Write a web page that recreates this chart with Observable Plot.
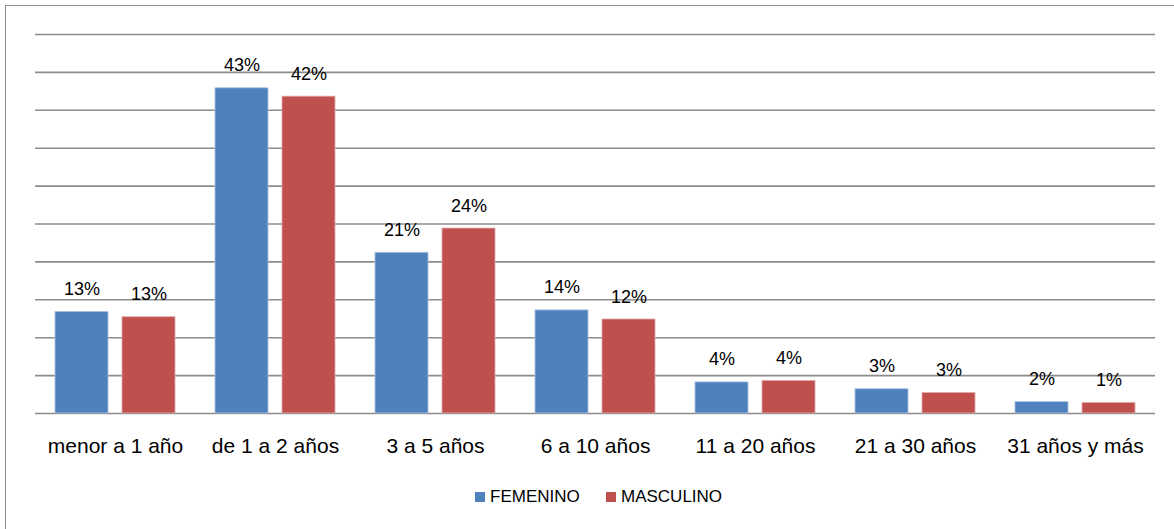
<!DOCTYPE html>
<html lang="es">
<head>
<meta charset="utf-8">
<script src="https://cdn.jsdelivr.net/npm/d3@7"></script>
<script src="https://cdn.jsdelivr.net/npm/@observablehq/plot@0.6"></script>
<style>
  html, body { margin: 0; padding: 0; background: #fff; overflow: hidden; }
  body { width: 1174px; height: 529px; position: relative; font-family: "Liberation Sans", Arial, sans-serif; }
  #frame { position: absolute; left: 5px; top: 5px; width: 1200px; height: 560px; border: 1.5px solid #8c8c8c; box-sizing: border-box; }
  #chart { position: absolute; left: 0; top: 0; }
  #legend { position: absolute; left: 0; top: 483px; width: 1174px; height: 28px; }
  .item { position: absolute; top: 0; display: flex; align-items: center; height: 28px; font-size: 17px; color: #000; }
  .swatch { width: 10px; height: 10px; margin-right: 5px; }
</style>
</head>
<body>
<div id="frame"></div>
<div id="chart"></div>
<div id="legend"></div>
<script>
// Antigüedad por sexo (porcentaje)
const categorias = ["menor a 1 año", "de 1 a 2 años", "3 a 5 años", "6 a 10 años", "11 a 20 años", "21 a 30 años", "31 años y más"];
const femenino  = [13.4, 42.9, 21.2, 13.6, 4.1, 3.2, 1.5];
const masculino = [12.7, 41.8, 24.4, 12.4, 4.3, 2.7, 1.4];
const series = ["FEMENINO", "MASCULINO"];
const colores = ["#4F81BD", "#C0504D"];
const lineasGuia = [0, 5, 10, 15, 20, 25, 30, 35, 40, 45, 50];

const filas = (valores, serie) => categorias.map((c, i) => ({cat: c, serie, valor: valores[i]}));
const datosF = filas(femenino, series[0]);
const datosM = filas(masculino, series[1]);

const etiqueta = d => `${Math.round(d.valor)}%`;
const fuente = "Liberation Sans, Arial, sans-serif";

const chart = Plot.plot({
  width: 1174,
  height: 475,
  marginLeft: 35,
  marginRight: 19,
  marginTop: 34,
  marginBottom: 62,
  style: {fontFamily: fuente, background: "transparent"},
  x: {type: "band", domain: categorias, padding: 0, label: null},
  y: {domain: [0, 50], axis: null},
  marks: [
    Plot.ruleY(lineasGuia, {stroke: "#8c8c8c", strokeWidth: 1.6}),
    Plot.barY(datosF, {x: "cat", y: "valor", fill: colores[0], insetLeft: 20, insetRight: 87, stroke: "#a9c1e0", strokeWidth: 0.8}),
    Plot.barY(datosM, {x: "cat", y: "valor", fill: colores[1], insetLeft: 87, insetRight: 20, stroke: "#e0a9a7", strokeWidth: 0.8}),
    Plot.text(datosF, {x: "cat", y: "valor", text: etiqueta, dx: -33.5, dy: -17, lineAnchor: "bottom", fontSize: 18, fill: "#000"}),
    Plot.text(datosM, {x: "cat", y: "valor", text: etiqueta, dx: 33.5, dy: -17, lineAnchor: "bottom", fontSize: 18, fill: "#000"}),
    Plot.axisX({tickSize: 0, tickPadding: 25, fontSize: 21, label: null, fill: "#000"})
  ]
});
document.getElementById("chart").appendChild(chart);

// Leyenda
const leyenda = document.getElementById("legend");
const posiciones = [475, 606];
series.forEach((s, i) => {
  const item = document.createElement("div");
  item.className = "item";
  item.style.left = posiciones[i] + "px";
  const sw = document.createElement("div");
  sw.className = "swatch";
  sw.style.background = colores[i];
  const tx = document.createElement("span");
  tx.textContent = s;
  item.appendChild(sw);
  item.appendChild(tx);
  leyenda.appendChild(item);
});
</script>
</body>
</html>
